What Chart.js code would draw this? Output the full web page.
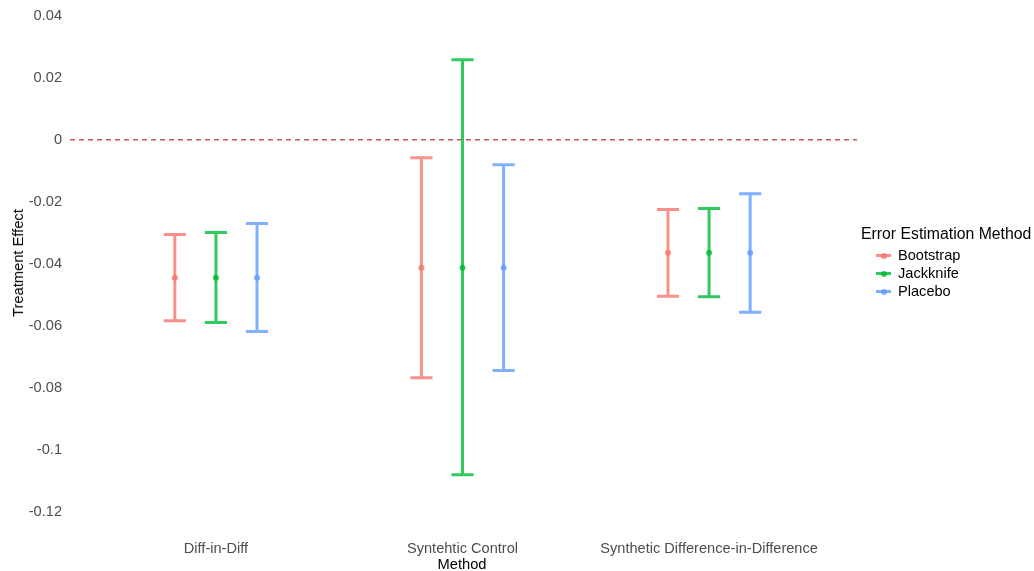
<!DOCTYPE html>
<html>
<head>
<meta charset="utf-8">
<script src="https://cdn.jsdelivr.net/npm/chart.js@4/dist/chart.umd.min.js"></script>
<style>
  html, body { margin: 0; padding: 0; background: #ffffff; }
  #wrap { position: relative; width: 1034px; height: 571px; font-family: "Liberation Sans", Arial, sans-serif; }
  canvas { position: absolute; left: 0; top: 0; }
  .ytitle { position: absolute; left: 18px; top: 263px; transform: translate(-50%, -50%) rotate(-90deg); font-size: 14.7px; font-weight: normal; color: #000; white-space: nowrap; }
  .xtitle { position: absolute; left: 462px; top: 564px; transform: translate(-50%, -50%); font-size: 14.7px; color: #000; white-space: nowrap; }
  .legend { position: absolute; left: 861px; top: 224px; color: #000; }
  .legend .lt { font-size: 15.8px; line-height: 20px; margin-bottom: 2px; white-space: nowrap; }
  .legend .it { position: relative; height: 18px; font-size: 14.6px; line-height: 18px; padding-left: 37px; white-space: nowrap; }
  .legend .ln { position: absolute; left: 15px; top: 8px; width: 15px; height: 3px; }
  .legend .dt { position: absolute; left: 19.5px; top: 6.5px; width: 6px; height: 6px; border-radius: 50%; }
</style>
</head>
<body>
<div id="wrap">
  <canvas id="c" width="1034" height="571"></canvas>
  <div class="ytitle">Treatment Effect</div>
  <div class="xtitle">Method</div>
  <div class="legend" id="legend"></div>
</div>
<script>
// Estimation methods along the x axis
const methods = ["Diff-in-Diff", "Syntehtic Control", "Synthetic Difference-in-Difference"];
// Error estimation approaches (one coloured bar per method)
const errorMethods = ["Bootstrap", "Jackknife", "Placebo"];
const errorColors = ["rgba(248,118,109,0.8)", "rgba(0,186,56,0.8)", "rgba(97,156,255,0.8)"];

// Point estimate of the treatment effect per method
const estimate = [-0.0445, -0.0413, -0.0365];

// Lower / upper confidence bounds, one array per error method (order follows `methods`)
const bootstrapLow  = [-0.0584, -0.0768, -0.0505];
const bootstrapHigh = [-0.0306, -0.0058, -0.0225];
const jackknifeLow  = [-0.0590, -0.1081, -0.0507];
const jackknifeHigh = [-0.0299,  0.0258, -0.0222];
const placeboLow    = [-0.0619, -0.0745, -0.0557];
const placeboHigh   = [-0.0270, -0.0081, -0.0174];

// Y tick labels
const yTicks = [0.04, 0.02, 0, -0.02, -0.04, -0.06, -0.08, -0.1, -0.12];

const lows  = [bootstrapLow, jackknifeLow, placeboLow];
const highs = [bootstrapHigh, jackknifeHigh, placeboHigh];
const dodge = 0.5 / 3;

const datasets = errorMethods.map((name, g) => ({
  label: name,
  data: methods.map((m, i) => ({
    x: i + 1 + (g - 1) * dodge,
    y: estimate[i],
    lo: lows[g][i],
    hi: highs[g][i]
  })),
  backgroundColor: errorColors[g],
  borderColor: errorColors[g],
  pointRadius: 3,
  pointBorderWidth: 0,
  showLine: false
}));

// Dashed reference line at zero
const zeroLine = {
  id: 'zeroLine',
  beforeDatasetsDraw(chart) {
    const { ctx, chartArea, scales } = chart;
    const y = scales.y.getPixelForValue(0);
    ctx.save();
    ctx.strokeStyle = 'rgba(190,60,60,0.85)';
    ctx.lineWidth = 1.4;
    ctx.setLineDash([5, 4]);
    ctx.beginPath();
    ctx.moveTo(chartArea.left + 2, y);
    ctx.lineTo(chartArea.right, y);
    ctx.stroke();
    ctx.restore();
  }
};

// Vertical error bars with end caps
const errorBars = {
  id: 'errorBars',
  beforeDatasetsDraw(chart) {
    const { ctx, scales } = chart;
    const capHalf = 0.045;
    chart.data.datasets.forEach((ds) => {
      ctx.save();
      ctx.strokeStyle = ds.borderColor;
      ctx.lineWidth = 3;
      ctx.lineCap = 'butt';
      ds.data.forEach((d) => {
        const x = scales.x.getPixelForValue(d.x);
        const xl = scales.x.getPixelForValue(d.x - capHalf);
        const xr = scales.x.getPixelForValue(d.x + capHalf);
        const yl = scales.y.getPixelForValue(d.lo);
        const yh = scales.y.getPixelForValue(d.hi);
        ctx.beginPath();
        ctx.moveTo(x, yh); ctx.lineTo(x, yl);
        ctx.moveTo(xl, yh); ctx.lineTo(xr, yh);
        ctx.moveTo(xl, yl); ctx.lineTo(xr, yl);
        ctx.stroke();
      });
      ctx.restore();
    });
  }
};

const tickFont = { family: '"Liberation Sans", Arial, sans-serif', size: 14.6 };

new Chart(document.getElementById('c'), {
  type: 'scatter',
  data: { datasets },
  options: {
    responsive: false,
    animation: false,
    layout: { padding: { left: 0, right: 177, top: 7, bottom: 0 } },
    plugins: { legend: { display: false }, tooltip: { enabled: false } },
    scales: {
      x: {
        type: 'linear',
        min: 0.4,
        max: 3.6,
        grid: { display: false, drawTicks: false },
        border: { display: false },
        afterBuildTicks(scale) { scale.ticks = methods.map((m, i) => ({ value: i + 1 })); },
        afterFit(scale) { scale.height = 37; },
        ticks: {
          padding: 6,
          color: '#4d4d4d',
          font: tickFont,
          maxRotation: 0,
          autoSkip: false,
          callback: (v) => methods[Math.round(v) - 1]
        }
      },
      y: {
        min: -0.12725,
        max: 0.04035,
        grid: { display: false, drawTicks: false },
        border: { display: false },
        afterBuildTicks(scale) { scale.ticks = yTicks.map(v => ({ value: v })); },
        afterFit(scale) { scale.width = 68; },
        ticks: {
          padding: 6,
          color: '#4d4d4d',
          font: tickFont,
          callback: (v) => String(Math.round(v * 100) / 100)
        }
      }
    }
  },
  plugins: [zeroLine, errorBars]
});

// Legend
const legend = document.getElementById('legend');
legend.innerHTML = '<div class="lt">Error Estimation Method</div>' +
  errorMethods.map((n, g) =>
    `<div class="it"><span class="ln" style="background:${errorColors[g]}"></span>` +
    `<span class="dt" style="background:${errorColors[g]}"></span>${n}</div>`).join('');
</script>
</body>
</html>
